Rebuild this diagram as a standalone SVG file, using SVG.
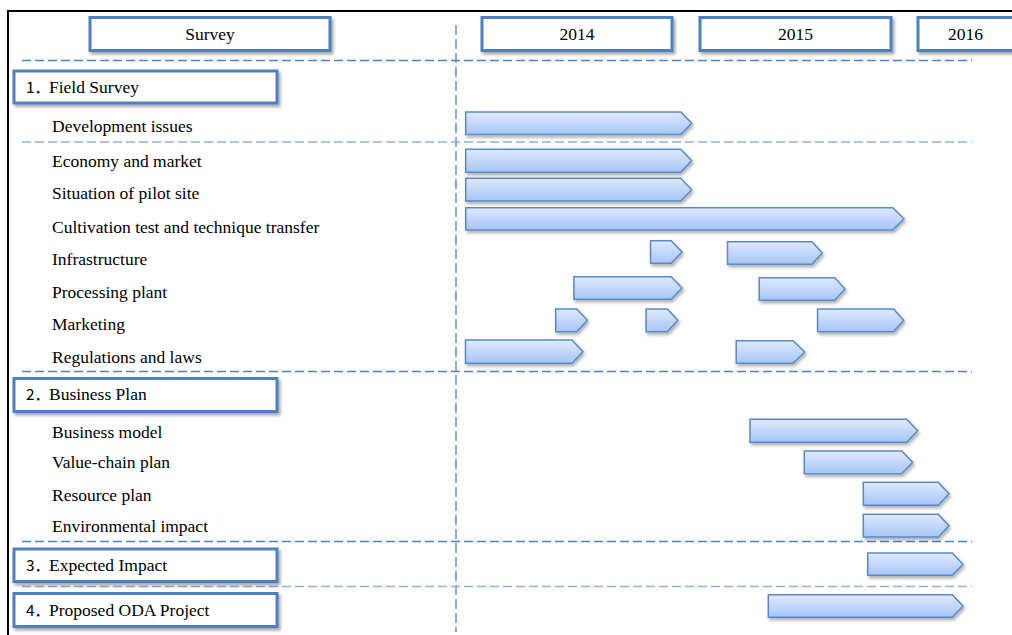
<svg xmlns="http://www.w3.org/2000/svg" width="1012" height="635" viewBox="0 0 1012 635">
<style>
.frame{fill:none;stroke:#000;stroke-width:2}
.hbox{fill:#fff;stroke:#4f7fbf;stroke-width:3;filter:url(#sh)}
.bar{fill:url(#bg);stroke:#5b89c6;stroke-width:1.5;stroke-linejoin:miter;filter:url(#sh2)}
.t{font-family:"Liberation Serif","Times New Roman",serif;font-size:17.5px;fill:#000}
.tc{text-anchor:middle}
.num{font-family:"Noto Sans CJK JP","Noto Sans",sans-serif;font-size:15.5px;fill:#000}
.dh{stroke:#4f81c7;stroke-width:1.3;stroke-dasharray:9 4;fill:none}
.dl{stroke:#8cb0de;stroke-width:1.5;stroke-dasharray:9 4;fill:none}
.dv{stroke:#4f81c7;stroke-width:1.3;stroke-dasharray:10 4;fill:none}
</style>
<defs>
<linearGradient id="bg" x1="0" y1="0" x2="0" y2="1">
<stop offset="0" stop-color="#dfeafd"/>
<stop offset="1" stop-color="#a6c5f6"/>
</linearGradient>
<filter id="sh" x="-10%" y="-30%" width="120%" height="170%">
<feDropShadow dx="2" dy="2.5" stdDeviation="1.5" flood-color="#000" flood-opacity="0.35"/>
</filter>
<filter id="sh2" x="-10%" y="-30%" width="120%" height="170%">
<feDropShadow dx="1.5" dy="2.5" stdDeviation="1.5" flood-color="#000" flood-opacity="0.3"/>
</filter>
</defs>
<rect width="1012" height="635" fill="#fff"/>
<path class="frame" d="M8,635 V11 H1012"/>

<g id="connectors">
<line class="dv" x1="456" y1="25" x2="456" y2="632"/>
<line class="dh" x1="22" y1="60.5" x2="972" y2="60.5"/>
<line class="dl" x1="22" y1="142" x2="972" y2="142"/>
<line class="dh" x1="22" y1="371.5" x2="972" y2="371.5"/>
<line class="dh" x1="22" y1="541.5" x2="972" y2="541.5"/>
<line class="dl" x1="22" y1="586.5" x2="972" y2="586.5"/>
</g>

<g id="hdr-survey"><rect class="hbox" x="90" y="17.5" width="240" height="33"/><text class="t tc" x="210" y="39.5">Survey</text></g>
<g id="hdr-2014"><rect class="hbox" x="482" y="17.5" width="190" height="33"/><text class="t tc" x="577" y="40">2014</text></g>
<g id="hdr-2015"><rect class="hbox" x="700" y="17.5" width="191" height="33"/><text class="t tc" x="795.5" y="40">2015</text></g>
<g id="hdr-2016"><rect class="hbox" x="918" y="17.5" width="96" height="33"/><text class="t tc" x="965.5" y="40">2016</text></g>

<g id="sec-1"><rect class="hbox" x="14" y="71" width="263" height="32"/><text y="93.3"><tspan class="num" x="26">1．</tspan><tspan class="t" x="49">Field Survey</tspan></text></g>
<g id="sec-2"><rect class="hbox" x="14" y="378.5" width="263" height="33"/><text y="400"><tspan class="num" x="26">2．</tspan><tspan class="t" x="49">Business Plan</tspan></text></g>
<g id="sec-3"><rect class="hbox" x="14" y="549" width="263" height="32.5"/><text y="571"><tspan class="num" x="26">3．</tspan><tspan class="t" x="49">Expected Impact</tspan></text></g>
<g id="sec-4"><rect class="hbox" x="14" y="593.5" width="263" height="33"/><text y="616"><tspan class="num" x="26">4．</tspan><tspan class="t" x="49">Proposed ODA Project</tspan></text></g>

<g id="lbl-development"><text class="t" x="52" y="131.7">Development issues</text></g>
<g id="lbl-economy"><text class="t" x="52" y="166.5">Economy and market</text></g>
<g id="lbl-situation"><text class="t" x="52" y="199.3">Situation of pilot site</text></g>
<g id="lbl-cultivation"><text class="t" x="52" y="232.5">Cultivation test and technique transfer</text></g>
<g id="lbl-infrastructure"><text class="t" x="52" y="265">Infrastructure</text></g>
<g id="lbl-processing"><text class="t" x="52" y="298.3">Processing plant</text></g>
<g id="lbl-marketing"><text class="t" x="52" y="330">Marketing</text></g>
<g id="lbl-regulations"><text class="t" x="52" y="363.3">Regulations and laws</text></g>
<g id="lbl-bizmodel"><text class="t" x="52" y="437.7">Business model</text></g>
<g id="lbl-valuechain"><text class="t" x="52" y="468.3">Value-chain plan</text></g>
<g id="lbl-resource"><text class="t" x="52" y="500.7">Resource plan</text></g>
<g id="lbl-environment"><text class="t" x="52" y="531.7">Environmental impact</text></g>

<g id="bar-development"><path class="bar" d="M465.7,112 H680.7 L691.7,123.2 L680.7,134.5 H465.7 Z"/></g>
<g id="bar-economy"><path class="bar" d="M465.7,149.3 H680.7 L691.7,160.8 L680.7,172.3 H465.7 Z"/></g>
<g id="bar-situation"><path class="bar" d="M465.7,178.3 H680.7 L691.7,189.7 L680.7,201 H465.7 Z"/></g>
<g id="bar-cultivation"><path class="bar" d="M465.7,207.7 H892.7 L904,218.8 L892.7,230 H465.7 Z"/></g>
<g id="bar-infra-1"><path class="bar" d="M650.5,240.7 H671.3 L682,252 L671.3,263.3 H650.5 Z"/></g>
<g id="bar-infra-2"><path class="bar" d="M727.5,241.7 H812 L822.3,253 L812,264.3 H727.5 Z"/></g>
<g id="bar-proc-1"><path class="bar" d="M573.9,276.7 H671.3 L682,288 L671.3,299.3 H573.9 Z"/></g>
<g id="bar-proc-2"><path class="bar" d="M759.2,277.7 H834.7 L845,289 L834.7,300.3 H759.2 Z"/></g>
<g id="bar-mkt-1"><path class="bar" d="M555.7,309 H576.8 L587.4,320.3 L576.8,331.7 H555.7 Z"/></g>
<g id="bar-mkt-2"><path class="bar" d="M646.1,309 H667.3 L677.9,320.3 L667.3,331.7 H646.1 Z"/></g>
<g id="bar-mkt-3"><path class="bar" d="M817.6,309 H893.5 L903.7,320.3 L893.5,331.7 H817.6 Z"/></g>
<g id="bar-reg-1"><path class="bar" d="M465.5,340 H572 L583,351.7 L572,363.3 H465.5 Z"/></g>
<g id="bar-reg-2"><path class="bar" d="M736.2,340.7 H793 L804.8,352 L793,363.3 H736.2 Z"/></g>
<g id="bar-bizmodel"><path class="bar" d="M750,419.3 H906.7 L917.7,430.8 L906.7,442.3 H750 Z"/></g>
<g id="bar-valuechain"><path class="bar" d="M804.3,451 H901.7 L912.7,462.3 L901.7,473.7 H804.3 Z"/></g>
<g id="bar-resource"><path class="bar" d="M863.3,482.3 H938.3 L949,493.8 L938.3,505.3 H863.3 Z"/></g>
<g id="bar-environment"><path class="bar" d="M863.3,514.3 H938.3 L949,525.7 L938.3,537 H863.3 Z"/></g>
<g id="bar-expected"><path class="bar" d="M867.7,553 H952.3 L963,564.2 L952.3,575.3 H867.7 Z"/></g>
<g id="bar-oda"><path class="bar" d="M768.3,594.7 H952.3 L963,606 L952.3,617.3 H768.3 Z"/></g>
</svg>
